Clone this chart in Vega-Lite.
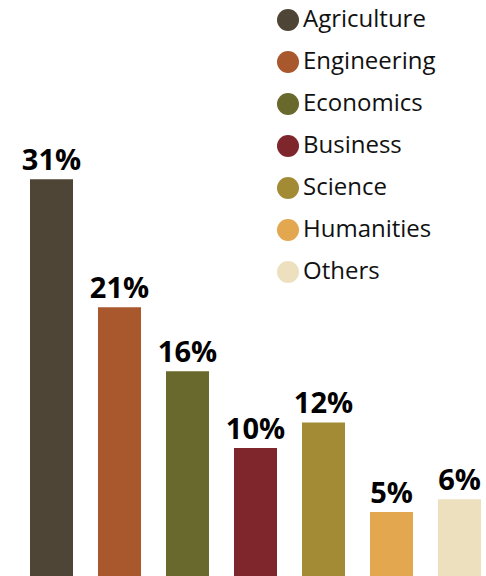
{
  "$schema": "https://vega.github.io/schema/vega-lite/v6.json",
  "width": 451,
  "height": 576,
  "autosize": {"type": "none"},
  "padding": {"left": 30, "top": 0, "right": 5, "bottom": 0},
  "background": "white",
  "config": {"view": {"stroke": null}},
  "data": {
    "values": [
      {"field": "Agriculture", "pct": 31, "label": "31%"},
      {"field": "Engineering", "pct": 21, "label": "21%"},
      {"field": "Economics", "pct": 16, "label": "16%"},
      {"field": "Business", "pct": 10, "label": "10%"},
      {"field": "Science", "pct": 12, "label": "12%"},
      {"field": "Humanities", "pct": 5, "label": "5%"},
      {"field": "Others", "pct": 6, "label": "6%"}
    ]
  },
  "encoding": {
    "x": {
      "field": "field",
      "type": "nominal",
      "sort": null,
      "axis": null,
      "scale": {"paddingInner": 0.3676, "paddingOuter": 0}
    },
    "y": {
      "field": "pct",
      "type": "quantitative",
      "axis": null,
      "scale": {"domain": [0, 45], "nice": false}
    }
  },
  "layer": [
    {
      "mark": {"type": "bar"},
      "encoding": {
        "color": {
          "field": "field",
          "type": "nominal",
          "sort": null,
          "scale": {
            "domain": ["Agriculture", "Engineering", "Economics", "Business", "Science", "Humanities", "Others"],
            "range": ["#4f4536", "#a9572d", "#69682d", "#7f262c", "#a38b36", "#e2a74f", "#ece0bf"]
          },
          "legend": {
            "title": null,
            "orient": "none",
            "legendX": 246,
            "legendY": 8,
            "direction": "vertical",
            "symbolType": "circle",
            "symbolSize": 484,
            "symbolStrokeWidth": 0,
            "labelFont": "Open Sans",
            "labelFontSize": 24,
            "labelColor": "#111",
            "labelOffset": 3,
            "rowPadding": 18,
            "padding": 0,
            "offset": 0
          }
        }
      }
    },
    {
      "mark": {"type": "text", "baseline": "alphabetic", "dy": -9, "font": "Open Sans", "fontWeight": "bold", "fontSize": 29, "color": "#000"},
      "encoding": {
        "text": {"field": "label", "type": "nominal"}
      }
    }
  ]
}
